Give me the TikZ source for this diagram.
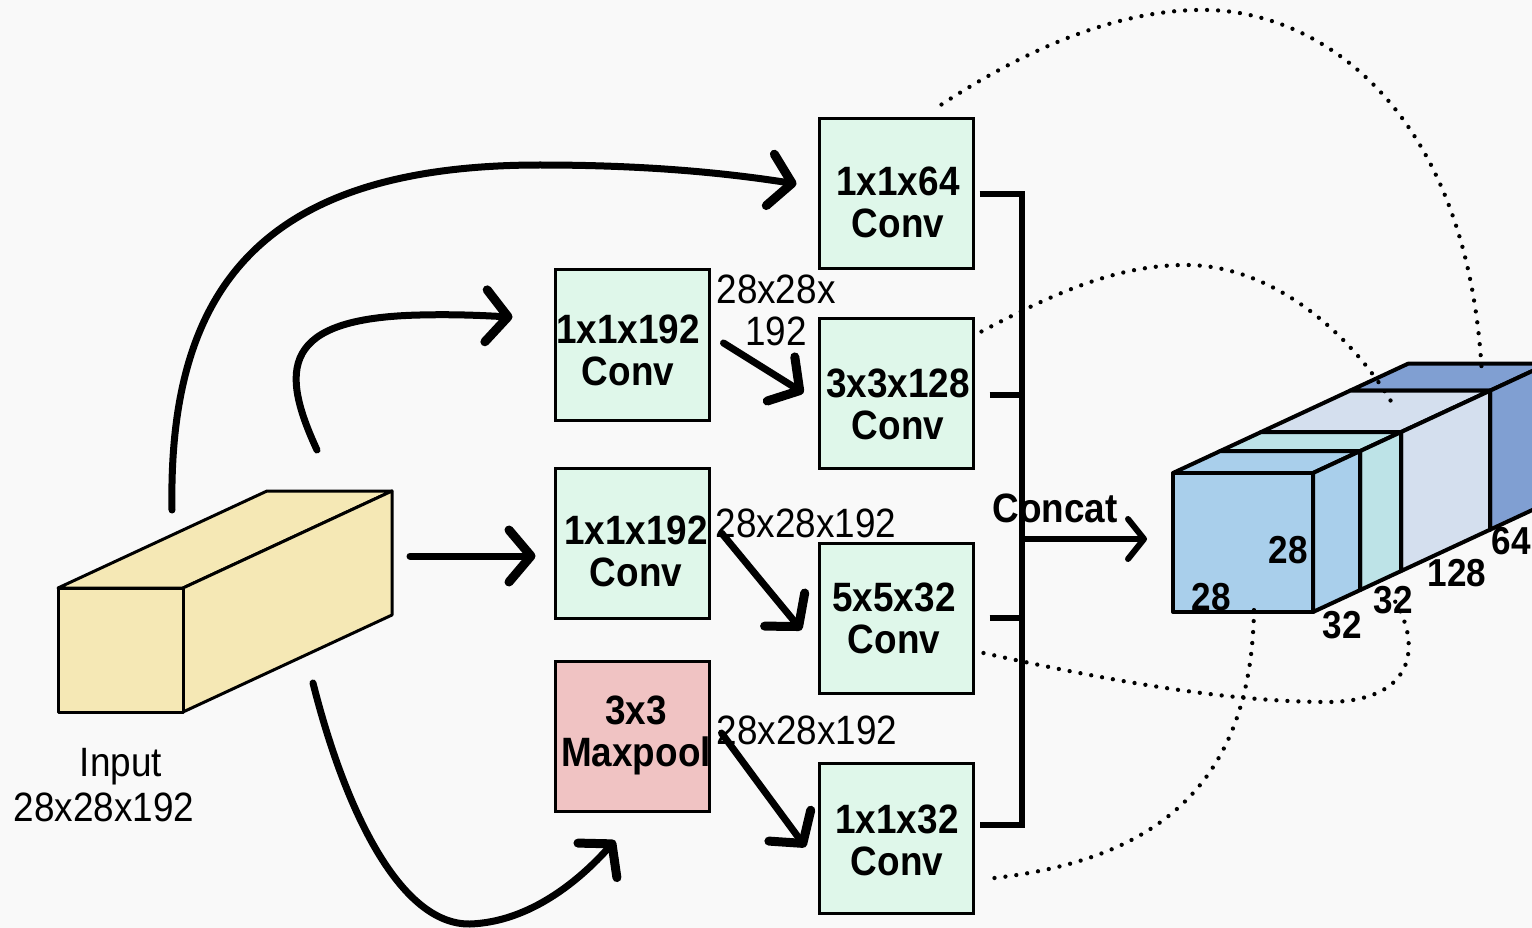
\documentclass[tikz,border=0pt]{standalone}
\usepackage{fontspec}
\setmainfont{Liberation Sans}[FakeStretch=0.9]
\usetikzlibrary{arrows.meta,calc}

\definecolor{bg}{HTML}{F9F9F9}
\definecolor{convgreen}{HTML}{DFF7EA}
\definecolor{poolpink}{HTML}{F0C3C3}
\definecolor{inyellow}{HTML}{F5E8B5}
\definecolor{cfront}{HTML}{A9CFEB}
\definecolor{cteal}{HTML}{BDE3E7}
\definecolor{clight}{HTML}{D4DFEE}
\definecolor{cdeep}{HTML}{809FD2}

\newcommand\bxfont{\fontsize{41}{42}\selectfont\bfseries}
\newcommand\lbfont{\fontsize{41}{42}\selectfont}
\newcommand\cbfont{\fontsize{39}{40}\selectfont\bfseries}
% two-line box label, nudged by (#1, #2) inside its box
\newcommand\boxtxt[3]{\hspace*{#1}\raisebox{#2}[\height][\depth]{%
  \begin{tabular}{@{}c@{}}#3\end{tabular}}\hspace*{-#1}}

\begin{document}
\begin{tikzpicture}[x=1pt,y=-1pt,
  box/.style={draw=black, line width=3pt, fill=convgreen, minimum width=154pt,
    minimum height=150pt, inner sep=0pt, font=\bxfont},
  dim/.style={font=\lbfont, inner sep=0pt, align=center},
  cubelbl/.style={font=\cbfont, inner sep=0pt},
  flow/.style={line width=7pt, line cap=round,
    -{Straight Barb[length=22pt, width=52pt, line width=9pt, round]}},
  dots/.style={line width=4.3pt, line cap=round, dash pattern=on 0pt off 11pt},
  bus/.style={line width=6pt},
  face/.style={draw=black, line width=3pt, line join=round},
  cface/.style={draw=black, line width=4pt, line join=round},
]
\useasboundingbox (0,0) rectangle (1532,928);
\fill[bg] (0,0) rectangle (1532,928);

\begin{scope}
\clip (0,0) rectangle (1532,928);

% input tensor
\filldraw[face, fill=inyellow] (58,588) -- (267,491) -- (392,491) -- (183,588) -- cycle;
\filldraw[face, fill=inyellow] (183,588) -- (392,491) -- (392,615) -- (183,712) -- cycle;
\filldraw[face, fill=inyellow] (58,588) rectangle (183,712);
\node[dim] (inname) at (121,767) {Input};
\node[dim] (inshape) at (104,807) {28x28x192};

% inception branches
\node[box] (b64)   at (896,194) {\boxtxt{2pt}{-14pt}{1x1x64\\Conv}};
\node[box] (b192a) at (632,345) {\boxtxt{-4pt}{-11pt}{1x1x192\\Conv}};
\node[box] (b128)  at (896,393) {\boxtxt{2pt}{-17pt}{3x3x128\\Conv}};
\node[box] (b192b) at (632,543) {\boxtxt{4pt}{-14pt}{1x1x192\\Conv}};
\node[box] (b532)  at (896,618) {\boxtxt{-2pt}{-6pt}{5x5x32\\Conv}};
\node[box, fill=poolpink] (pool) at (632,736) {\boxtxt{4pt}{-1pt}{3x3\\Maxpool}};
\node[box] (b32)   at (896,838) {\boxtxt{1pt}{-8pt}{1x1x32\\Conv}};

% intermediate shapes
\node[dim] (d1) at (776,310) {28x28x\\192};
\node[dim] (d2) at (806,523) {28x28x192};
\node[dim] (d3) at (807,730) {28x28x192};

% arrows from the input
\coordinate (s1) at (172,510);
\coordinate (s2) at (317,450);
\coordinate (s3) at (410,556);
\coordinate (s4) at (313,683);
\coordinate (t1) at ($(b64.west)+(-21,-10)$);
\coordinate (t2) at ($(b192a.west)+(-41,-28)$);
\coordinate (t3) at ($(b192b.west)+(-18,13)$);
\coordinate (t4) at ($(pool.south)+(-17,28)$);
\draw[flow] (s1) .. controls (168,290) and (260,165) .. (540,165)
  .. controls (640,165) and (720,172) .. (t1);
\draw[flow] (s2) .. controls (280,370) and (280,318) .. (420,315)
  .. controls (460,314) and (490,316) .. (t2);
\draw[flow] (s3) -- (t3);
\draw[flow] (s4) .. controls (345,810) and (400,925) .. (470,924)
  .. controls (530,922) and (580,880) .. (t4);

% arrows between stages
\draw[flow] ($(b192a.east)+(13,-2)$) -- ($(b128.west)+(-14,0)$);
\draw[flow] ($(b192b.east)+(11,-10)$) -- ($(b532.west)+(-16,12)$);
\draw[flow] ($(pool.east)+(11,-3)$) -- ($(b32.west)+(-12,9)$);

% concatenation bus
\node[font=\bxfont, inner sep=0pt] (concat) at (1055,508) {Concat};
\coordinate (busx) at (1022,0);
\draw[bus] ($(b64.east)+(5,0)$) -- (b64.east -| busx)
  -- ($(b32.east -| busx)+(0,-13)$) -- ($(b32.east)+(5,-13)$);
\draw[bus] ($(b128.east)+(15,2)$) -- ($(b128.east -| busx)+(0,2)$);
\draw[bus] ($(b532.east)+(15,0)$) -- (b532.east -| busx);
\coordinate (cc) at (1022,539);
\coordinate (ct) at (1147,539);
\draw[bus, -{Straight Barb[length=16pt, width=40pt, line width=6pt, round]}] (cc) -- (ct);

% output tensor, slices drawn back to front
\foreach \da/\db/\col in {177/235/cdeep, 88/177/clight, 47/88/cteal, 0/47/cfront} {
  \filldraw[cface, fill=\col] ({1173+\da},{473-0.465*\da}) -- ({1313+\da},{473-0.465*\da})
    -- ({1313+\db},{473-0.465*\db}) -- ({1173+\db},{473-0.465*\db}) -- cycle;
  \filldraw[cface, fill=\col] ({1313+\da},{473-0.465*\da}) -- ({1313+\db},{473-0.465*\db})
    -- ({1313+\db},{612-0.465*\db}) -- ({1313+\da},{612-0.465*\da}) -- cycle;
  \filldraw[cface, fill=\col] ({1173+\da},{473-0.465*\da}) rectangle ({1313+\da},{612-0.465*\da});
}

% dotted links from each branch to its slice
\draw[dots] ($(b64.north east)+(-33,-13)$) .. controls (1040,40) and (1130,8) .. (1210,10)
  .. controls (1330,14) and (1470,120) .. (1482,377);
\draw[dots] ($(b128.north east)+(7,15)$) .. controls (1060,290) and (1120,265) .. (1186,265)
  .. controls (1270,265) and (1350,330) .. (1395,408);
\draw[dots] ($(b532.east)+(9,35)$) .. controls (1150,690) and (1250,702) .. (1330,702)
  .. controls (1420,700) and (1420,640) .. (1393,598);
\draw[dots] ($(b32.east)+(20,40)$) .. controls (1150,860) and (1255,790) .. (1254,600);

% slice sizes
\node[cubelbl] (h28) at (1288,550) {28};
\node[cubelbl] (w28) at (1211,597) {28};
\node[cubelbl] (n1) at (1342,625) {32};
\node[cubelbl] (n2) at (1393,600) {32};
\node[cubelbl] (n3) at (1457,573) {128};
\node[cubelbl] (n4) at (1511,541) {64};
\end{scope}
\end{tikzpicture}
\end{document}
